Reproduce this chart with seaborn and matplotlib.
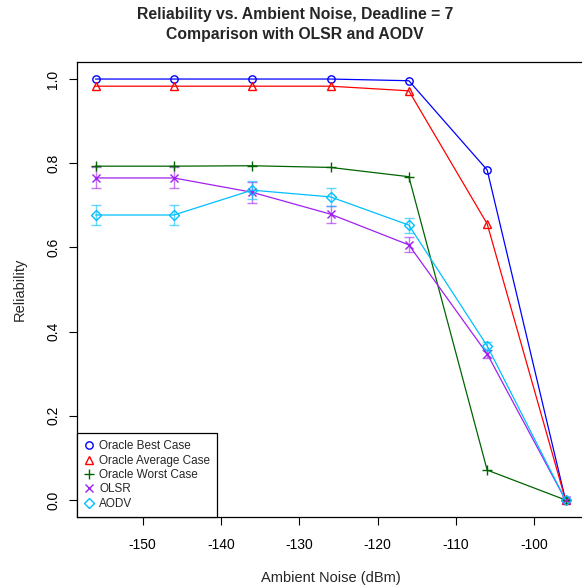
import numpy as np
import pandas as pd
import matplotlib
matplotlib.use("Agg")
import matplotlib.pyplot as plt
import seaborn as sns
from matplotlib.lines import Line2D

noise = [-156, -146, -136, -126, -116, -106, -96]
best = [1.0, 1.0, 1.0, 1.0, 0.996, 0.784, 0.0]
average = [0.983, 0.983, 0.983, 0.983, 0.972, 0.656, 0.0]
worst = [0.793, 0.793, 0.794, 0.790, 0.768, 0.071, 0.0]
olsr = [0.765, 0.765, 0.731, 0.679, 0.606, 0.347, 0.0]
olsr_err = [0.025, 0.025, 0.025, 0.020, 0.018, 0.010, 0.0]
aodv = [0.677, 0.677, 0.736, 0.720, 0.653, 0.366, 0.0]
aodv_err = [0.024, 0.024, 0.021, 0.022, 0.018, 0.010, 0.0]

names = ["Oracle Best Case", "Oracle Average Case", "Oracle Worst Case", "OLSR", "AODV"]
series = [best, average, worst, olsr, aodv]
colors = ["#0000FF", "#FF0000", "#006400", "#A020F0", "#00BFFF"]
markers = ["o", "^", "+", "x", "D"]
msizes = [5.3, 6.3, 7.5, 6, 5]

sns.set_theme(style="ticks")
plt.rcParams["font.family"] = ["Liberation Sans", "DejaVu Sans"]
plt.rcParams["axes.unicode_minus"] = False

fig = plt.figure(figsize=(5.82, 5.86), dpi=100)
ax = fig.add_axes([76.7 / 582, (586 - 516.8) / 586, (584.3 - 76.7) / 582, (516.8 - 62.2) / 586])

for name, vals, c, m, ms in zip(names, series, colors, markers, msizes):
    df = pd.DataFrame({"x": noise, "y": vals})
    sns.lineplot(data=df, x="x", y="y", ax=ax, color=c, lw=0.9, marker=m,
                 markersize=ms, markerfacecolor="none", markeredgecolor=c,
                 markeredgewidth=1.0, legend=False, zorder=3)

ax.errorbar(noise, olsr, yerr=olsr_err, fmt="none", ecolor="#A020F0", alpha=0.6,
            elinewidth=1.0, capsize=3.6, capthick=1.0, zorder=2)
ax.errorbar(noise, aodv, yerr=aodv_err, fmt="none", ecolor="#00BFFF", alpha=0.6,
            elinewidth=1.0, capsize=3.6, capthick=1.0, zorder=2)

ax.set_xlim(-158.4, -93.6)
ax.set_ylim(-0.04, 1.04)
ax.set_xticks([-150, -140, -130, -120, -110, -100])
ax.set_yticks([0.0, 0.2, 0.4, 0.6, 0.8, 1.0])
ax.set_yticklabels(["0.0", "0.2", "0.4", "0.6", "0.8", "1.0"], rotation=90, va="center")
ax.tick_params(axis="both", direction="out", length=6, width=0.8, colors="black",
               labelsize=10, pad=6)
ax.tick_params(axis="x", pad=9)
for s in ax.spines.values():
    s.set_color("black")
    s.set_linewidth(0.9)

ax.set_xlabel("Ambient Noise (dBm)", fontsize=10.5, labelpad=14)
ax.set_ylabel("Reliability", fontsize=10.5, labelpad=14)

fig.text(295 / 582, 1 - 15 / 586, "Reliability vs. Ambient Noise, Deadline = 7",
         ha="center", va="center", fontsize=11.3, fontweight="bold")
fig.text(295 / 582, 1 - 35 / 586, "Comparison with OLSR and AODV",
         ha="center", va="center", fontsize=11.3, fontweight="bold")

handles = [Line2D([], [], linestyle="none", marker=m, color=c, markerfacecolor="none",
                  markeredgecolor=c, markersize=ms, markeredgewidth=1.0)
           for c, m, ms in zip(colors, markers, msizes)]
leg = ax.legend(handles, names, loc="lower left", bbox_to_anchor=(0, 0),
                borderaxespad=0, fontsize=8.5, frameon=True, fancybox=False,
                handlelength=0.8, handletextpad=0.5, labelspacing=0.2,
                borderpad=0.6)
leg.get_frame().set_edgecolor("black")
leg.get_frame().set_linewidth(0.9)
leg.get_frame().set_alpha(1)

fig.savefig("out.png", dpi=100)
